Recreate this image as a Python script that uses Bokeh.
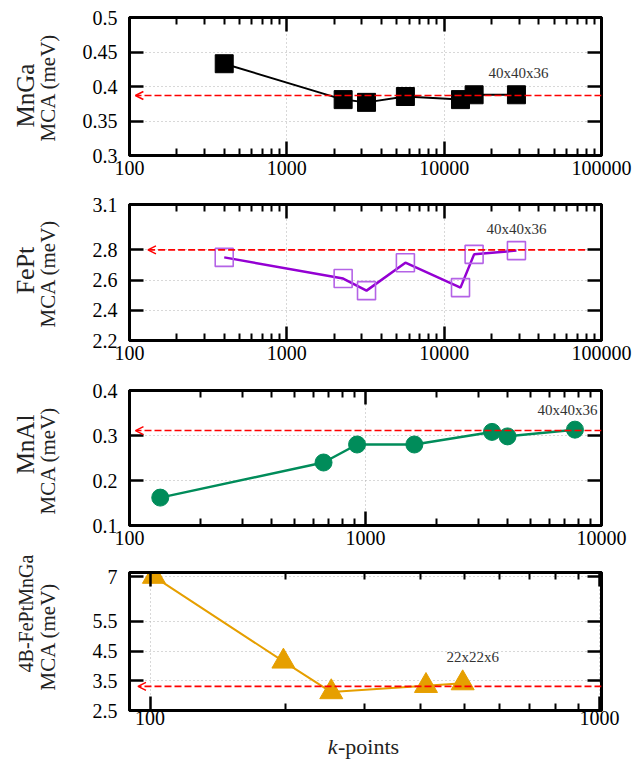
import math
from bokeh.plotting import figure
from bokeh.models import (FixedTicker, LogAxis, LinearAxis, Arrow, OpenHead, Label,
                          CustomJSTickFormatter, ColumnDataSource)
from bokeh.layouts import column, row
from bokeh.embed import file_html
from bokeh.resources import INLINE

# ---------------- data ----------------
mnga_kpts = [400, 2280, 3210, 5670, 12700, 15500, 28800]
mnga_mca = [0.433, 0.381, 0.377, 0.3855, 0.381, 0.388, 0.388]
mnga_ref = 0.387

fept_kpts = [400, 2280, 3210, 5670, 12700, 15500, 28800]
fept_mca = [2.75, 2.61, 2.53, 2.715, 2.55, 2.77, 2.795]
fept_ref = 2.80

mnal_kpts = [135, 664, 921, 1611, 3436, 3997, 7718]
mnal_mca = [0.162, 0.240, 0.280, 0.280, 0.308, 0.298, 0.313]
mnal_ref = 0.311

fpm_kpts = [102, 198, 253, 411, 496]
fpm_mca = [7.0, 4.15, 3.12, 3.33, 3.42]
fpm_ref = 3.31

x_ticks_5 = [100, 1000, 10000, 100000]
x_ticks_3 = [100, 1000, 10000]
x_ticks_2 = [100, 1000]
y_ticks_mnga = [0.3, 0.35, 0.4, 0.45, 0.5]
y_ticks_fept = [2.2, 2.4, 2.6, 2.8, 3.1]
y_ticks_mnal = [0.1, 0.2, 0.3, 0.4]
y_ticks_fpm = [2.5, 3.5, 4.5, 5.5, 7]

materials = ["MnGa", "FePt", "MnAl", "4B-FePtMnGa"]
grid_label = "40x40x36"
grid_label_4 = "22x22x6"
y_unit = "MCA (meV)"

FONT = "Liberation Serif"
TOTAL_W, TOTAL_H = 638, 759
LABW = 70            # width of the label strip on the left
PW = TOTAL_W - LABW  # width of each chart panel
LEFT = 129 - LABW
RIGHT = 37
FRAME_W = PW - LEFT - RIGHT


def minor_for(majors):
    out = []
    for m in majors[:-1]:
        out += [m * k for k in range(2, 10)]
    return out


def style_axis(ax, labels=True):
    ax.axis_line_width = 3
    ax.axis_line_color = "black"
    ax.major_tick_in = 14
    ax.major_tick_out = 0
    ax.minor_tick_in = 7
    ax.minor_tick_out = 0
    ax.major_tick_line_width = 2.5
    ax.minor_tick_line_width = 2
    ax.major_tick_line_color = "black"
    ax.minor_tick_line_color = "black"
    ax.major_label_text_font = FONT
    ax.major_label_text_font_size = "20px"
    ax.major_label_text_color = "black"
    if labels:
        ax.formatter = CustomJSTickFormatter(code="return tick.toString()")
    else:
        ax.formatter = CustomJSTickFormatter(code="return ''")
        ax.major_label_standoff = 0


def panel(height, top, bottom, xr, yr, xmaj, yticks, xstandoff=5):
    p = figure(width=PW, height=height, x_axis_type="log", x_range=xr, y_range=yr,
               output_backend="svg", toolbar_location=None,
               min_border_left=LEFT, min_border_right=RIGHT,
               min_border_top=top, min_border_bottom=bottom)
    p.background_fill_color = "white"
    p.border_fill_color = "white"
    p.outline_line_color = "black"
    p.outline_line_width = 3
    xt = FixedTicker(ticks=xmaj, minor_ticks=minor_for(xmaj))
    yt = FixedTicker(ticks=yticks)
    p.xaxis.ticker = xt
    p.yaxis.ticker = yt
    for ax in p.xaxis:
        style_axis(ax)
        ax.major_label_standoff = xstandoff
    for ax in p.yaxis:
        style_axis(ax)
        ax.major_label_standoff = 12
        ax.minor_tick_line_color = None
    top_ax = LogAxis(ticker=xt)
    style_axis(top_ax, labels=False)
    p.add_layout(top_ax, "above")
    right_ax = LinearAxis(ticker=yt)
    style_axis(right_ax, labels=False)
    right_ax.minor_tick_line_color = None
    p.add_layout(right_ax, "right")
    for g in (p.xgrid, p.ygrid):
        g.grid_line_color = "#b0b0b0"
        g.grid_line_dash = "1 3"
        g.grid_line_width = 1
    return p


def ref_arrow(p, x_start, x_end, yref):
    p.add_layout(Arrow(end=OpenHead(size=8, line_color="red", line_width=1.5),
                       x_start=x_start, y_start=yref, x_end=x_end, y_end=yref,
                       line_color="red", line_width=1.6, line_dash="7 3"))


def grid_text(p, x, y, txt):
    p.add_layout(Label(x=x, y=y, text=txt, text_align="center", text_baseline="middle",
                       text_font=FONT, text_font_size="15px", text_color="#333333"))


def blank_fig(w, h, xw=None):
    f = figure(width=w, height=h, x_range=(0, xw if xw else w), y_range=(0, h), title=None,
               output_backend="svg", toolbar_location=None,
               x_axis_location=None, y_axis_location=None,
               min_border_left=0, min_border_right=0, min_border_top=0, min_border_bottom=0)
    f.outline_line_color = None
    f.background_fill_color = "white"
    f.border_fill_color = "white"
    f.grid.visible = False
    return f


# ---- Panel 1: MnGa ----
p1 = panel(187, 17, 32, (100, 100000), (0.3, 0.5), x_ticks_5, y_ticks_mnga)
s1 = ColumnDataSource(dict(x=mnga_kpts, y=mnga_mca))
p1.line("x", "y", source=s1, line_color="black", line_width=2)
p1.scatter("x", "y", source=s1, marker="square", size=18, fill_color="black",
           line_color="black")
ref_arrow(p1, 100000, 109, mnga_ref)
grid_text(p1, 29700, 0.419, grid_label)

# ---- Panel 2: FePt ----
p2 = panel(183, 17, 30, (100, 100000), (2.2, 3.1), x_ticks_5, y_ticks_fept)
s2 = ColumnDataSource(dict(x=fept_kpts, y=fept_mca))
p2.line("x", "y", source=s2, line_color="#9400d3", line_width=2.5)
p2.scatter("x", "y", source=s2, marker="square", size=18, fill_color=None,
           line_color="#b463e6", line_width=1.6)
ref_arrow(p2, 78700, 131, fept_ref)
grid_text(p2, 28800, 2.935, grid_label)

# ---- Panel 3: MnAl ----
p3 = panel(185, 20, 30, (100, 10000), (0.1, 0.4), x_ticks_3, y_ticks_mnal)
s3 = ColumnDataSource(dict(x=mnal_kpts, y=mnal_mca))
p3.line("x", "y", source=s3, line_color="#008c5a", line_width=2.5)
p3.scatter("x", "y", source=s3, marker="circle", size=17, fill_color="#008c5a",
           line_color="#008c5a")
ref_arrow(p3, 10000, 106, mnal_ref)
grid_text(p3, 7180, 0.356, grid_label)

# ---- Panel 4: 4B-FePtMnGa ----
p4 = panel(178, 17, 23, (90, 1010), (2.5, 7.14), x_ticks_2, y_ticks_fpm, xstandoff=0)
s4 = ColumnDataSource(dict(x=fpm_kpts, y=fpm_mca))
p4.line("x", "y", source=s4, line_color="#e69f00", line_width=2)
p4.scatter("x", "y", source=s4, marker="triangle", size=23, fill_color="#e69f00",
           line_color="#e69f00")
ref_arrow(p4, 1010, 94, fpm_ref)
grid_text(p4, 522, 4.29, grid_label_4)

# ---- x-axis title strip (frame aligned with the panels above) ----
KH = TOTAL_H - (187 + 183 + 185 + 178)
kfig = blank_fig(PW, KH, xw=FRAME_W)
kfig.add_layout(Label(x=208, y=1, text="k", text_align="right", text_baseline="bottom",
                      text_font=FONT, text_font_style="italic", text_font_size="22px",
                      text_color="#222222"))
kfig.add_layout(Label(x=208.5, y=1, text="-points", text_align="left",
                      text_baseline="bottom", text_font=FONT, text_font_size="22px",
                      text_color="#222222"))

# ---- y-axis title strip (screen-pixel coordinates, y measured from top) ----
labfig = blank_fig(LABW, TOTAL_H)
mat_pos = [(25, 95, "25px"), (25, 270, "26px"), (25, 444, "25px"), (25, 613, "20px")]
mca_pos = [(47, 87), (47, 273), (47, 460), (47, 636)]
for name, (mx, my, fs), (ux, uy) in zip(materials, mat_pos, mca_pos):
    labfig.add_layout(Label(x=mx, y=TOTAL_H - my, text=name, angle=math.pi / 2,
                            text_align="center", text_baseline="middle", text_font=FONT,
                            text_font_size=fs, text_color="#222222"))
    labfig.add_layout(Label(x=ux, y=TOTAL_H - uy, text=y_unit, angle=math.pi / 2,
                            text_align="center", text_baseline="middle", text_font=FONT,
                            text_font_size="21px", text_color="#222222"))

layout = row(labfig, column(p1, p2, p3, p4, kfig, spacing=0), spacing=0)
open("out.html", "w").write(file_html(layout, INLINE))
